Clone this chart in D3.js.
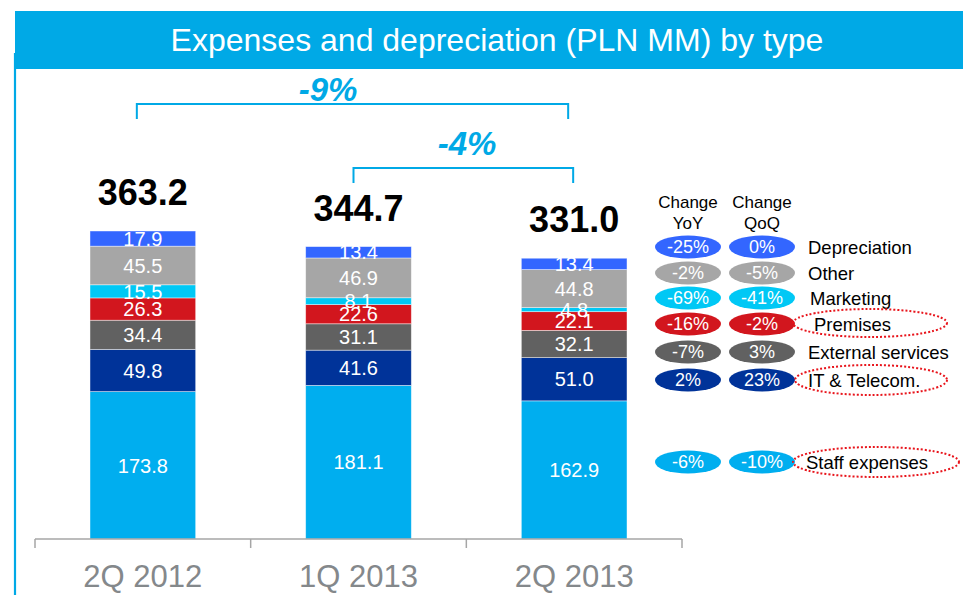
<!DOCTYPE html>
<html>
<head>
<meta charset="utf-8">
<script src="https://cdn.jsdelivr.net/npm/d3@7"></script>
<style>
  html, body { margin: 0; padding: 0; background: #fff; }
  svg { display: block; font-family: "Liberation Sans", Arial, Helvetica, sans-serif; }
</style>
</head>
<body>
<svg id="chart" width="963" height="595"></svg>
<script>
// ---- data ----
const categories = ["2Q 2012", "1Q 2013", "2Q 2013"];
const seriesNames = ["Staff expenses", "IT & Telecom.", "External services", "Premises", "Marketing", "Other", "Depreciation"];
const staff      = [173.8, 181.1, 162.9];
const itTelecom  = [49.8, 41.6, 51.0];
const external   = [34.4, 31.1, 32.1];
const premises   = [26.3, 22.6, 22.1];
const marketing  = [15.5, 8.1, 4.8];
const other      = [45.5, 46.9, 44.8];
const depreciation = [17.9, 13.4, 13.4];
const totals     = ["363.2", "344.7", "331.0"];
const changeYoY  = ["-6%", "2%", "-7%", "-16%", "-69%", "-2%", "-25%"];
const changeQoQ  = ["-10%", "23%", "3%", "-2%", "-41%", "-5%", "0%"];
const highlighted = ["Staff expenses", "IT & Telecom.", "Premises"];
const bracketLabels = ["-9%", "-4%"];
const colors = ["#00AEEF", "#003399", "#616161", "#D2161E", "#00C8F5", "#A6A6A6", "#3366FF"];

const seriesValues = [staff, itTelecom, external, premises, marketing, other, depreciation];
const rows = categories.map((c, i) => {
  const r = { cat: c };
  seriesNames.forEach((s, j) => r[s] = seriesValues[j][i]);
  return r;
});

const svg = d3.select("#chart");
const blue = "#00A9E6";

// title bar and left frame
svg.append("rect").attr("x", 15).attr("y", 11).attr("width", 948).attr("height", 58).attr("fill", blue);
svg.append("line").attr("x1", 15).attr("x2", 15).attr("y1", 53).attr("y2", 595)
  .attr("stroke", blue).attr("stroke-width", 2.2);
svg.append("text").attr("x", 497).attr("y", 51).attr("text-anchor", "middle")
  .attr("fill", "#fff").attr("font-size", 32).text("Expenses and depreciation (PLN MM) by type");

// scales
const x = d3.scaleBand().domain(categories).range([35, 682]).paddingInner(0.51).paddingOuter(0.255);
const yMax = d3.max(totals.map(Number));
const y = d3.scaleLinear().domain([0, yMax]).range([539, 231]);

const stack = d3.stack().keys(seriesNames);
const stacked = stack(rows);
const color = d3.scaleOrdinal().domain(seriesNames).range(colors);

// bars
const g = svg.append("g");
stacked.forEach(layer => {
  g.selectAll(null).data(layer).enter().append("rect")
    .attr("x", d => x(d.data.cat))
    .attr("width", x.bandwidth())
    .attr("y", d => y(d[1]))
    .attr("height", d => y(d[0]) - y(d[1]))
    .attr("fill", color(layer.key))
    .attr("stroke", "#fff").attr("stroke-opacity", 0.55).attr("stroke-width", 0.8);
});
// segment labels
stacked.forEach(layer => {
  g.selectAll(null).data(layer).enter().append("text")
    .attr("x", d => x(d.data.cat) + x.bandwidth() / 2)
    .attr("y", d => (y(d[0]) + y(d[1])) / 2)
    .attr("dy", "0.36em")
    .attr("text-anchor", "middle")
    .attr("fill", "#fff").attr("font-size", 20)
    .text(d => (d[1] - d[0]).toFixed(1));
});
// totals
g.selectAll(null).data(rows).enter().append("text")
  .attr("x", d => x(d.cat) + x.bandwidth() / 2)
  .attr("y", (d, i) => y(+totals[i]) - 26)
  .attr("text-anchor", "middle").attr("font-weight", "bold").attr("font-size", 36).attr("fill", "#000")
  .text((d, i) => totals[i]);

// axis
const step = x.step();
const axisG = svg.append("g");
axisG.append("line").attr("x1", x.range()[0]).attr("x2", x.range()[1]).attr("y1", 539).attr("y2", 539)
  .attr("stroke", "#A6A6A6").attr("stroke-width", 1.5);
d3.range(categories.length + 1).forEach(i => {
  const tx = x.range()[0] + i * step;
  axisG.append("line").attr("x1", tx).attr("x2", tx).attr("y1", 539).attr("y2", 548)
    .attr("stroke", "#A6A6A6").attr("stroke-width", 1.5);
});
axisG.selectAll(null).data(categories).enter().append("text")
  .attr("x", d => x(d) + x.bandwidth() / 2).attr("y", 587)
  .attr("text-anchor", "middle").attr("font-size", 31).attr("fill", "#84888B")
  .text(d => d);

// brackets
const c0 = x(categories[0]) + x.bandwidth() / 2;
const c1 = x(categories[1]) + x.bandwidth() / 2;
const c2 = x(categories[2]) + x.bandwidth() / 2;
function bracket(x1, x2, yTop, yBot, label, lx, ly) {
  svg.append("path")
    .attr("d", `M${x1},${yBot} L${x1},${yTop} L${x2},${yTop} L${x2},${yBot}`)
    .attr("fill", "none").attr("stroke", blue).attr("stroke-width", 2);
  svg.append("text").attr("x", lx).attr("y", ly).attr("text-anchor", "middle")
    .attr("fill", blue).attr("font-weight", "bold").attr("font-style", "italic").attr("font-size", 33)
    .text(label);
}
bracket(c0 - 6, c2 - 6, 104, 119, bracketLabels[0], 328, 101);
bracket(c1 - 5, c2 - 1, 168, 183, bracketLabels[1], 467, 155);

// legend
const leg = svg.append("g");
const colYoY = 688, colQoQ = 762;
[["Change", "YoY", colYoY], ["Change", "QoQ", colQoQ]].forEach(h => {
  leg.append("text").attr("x", h[2]).attr("y", 208).attr("text-anchor", "middle").attr("font-size", 17).text(h[0]);
  leg.append("text").attr("x", h[2]).attr("y", 229).attr("text-anchor", "middle").attr("font-size", 17).text(h[1]);
});
const rowY = { "Depreciation": 247, "Other": 273, "Marketing": 298, "Premises": 324, "External services": 352, "IT & Telecom.": 380, "Staff expenses": 462 };
const labelX = { "Depreciation": 808, "Other": 808, "Marketing": 810, "Premises": 814, "External services": 808, "IT & Telecom.": 808, "Staff expenses": 806 };
seriesNames.forEach((s, i) => {
  const cy = rowY[s];
  [[colYoY, changeYoY[i]], [colQoQ, changeQoQ[i]]].forEach(p => {
    leg.append("ellipse").attr("cx", p[0]).attr("cy", cy).attr("rx", 33).attr("ry", 11.5).attr("fill", colors[i]);
    leg.append("text").attr("x", p[0]).attr("y", cy).attr("dy", "0.36em").attr("text-anchor", "middle")
      .attr("fill", "#fff").attr("font-size", 18).text(p[1]);
  });
  leg.append("text").attr("x", labelX[s]).attr("y", cy).attr("dy", "0.36em")
    .attr("font-size", 18.5).attr("fill", "#000").text(s);
});
// highlight dotted ellipses
const hl = { "Premises": [870, 323, 77, 14], "IT & Telecom.": [871, 380, 76, 15], "Staff expenses": [876, 462, 83, 15] };
highlighted.forEach(s => {
  const e = hl[s];
  leg.append("ellipse").attr("cx", e[0]).attr("cy", e[1]).attr("rx", e[2]).attr("ry", e[3])
    .attr("fill", "none").attr("stroke", "#E8141B").attr("stroke-width", 2).attr("stroke-dasharray", "2 2");
});
</script>
</body>
</html>
